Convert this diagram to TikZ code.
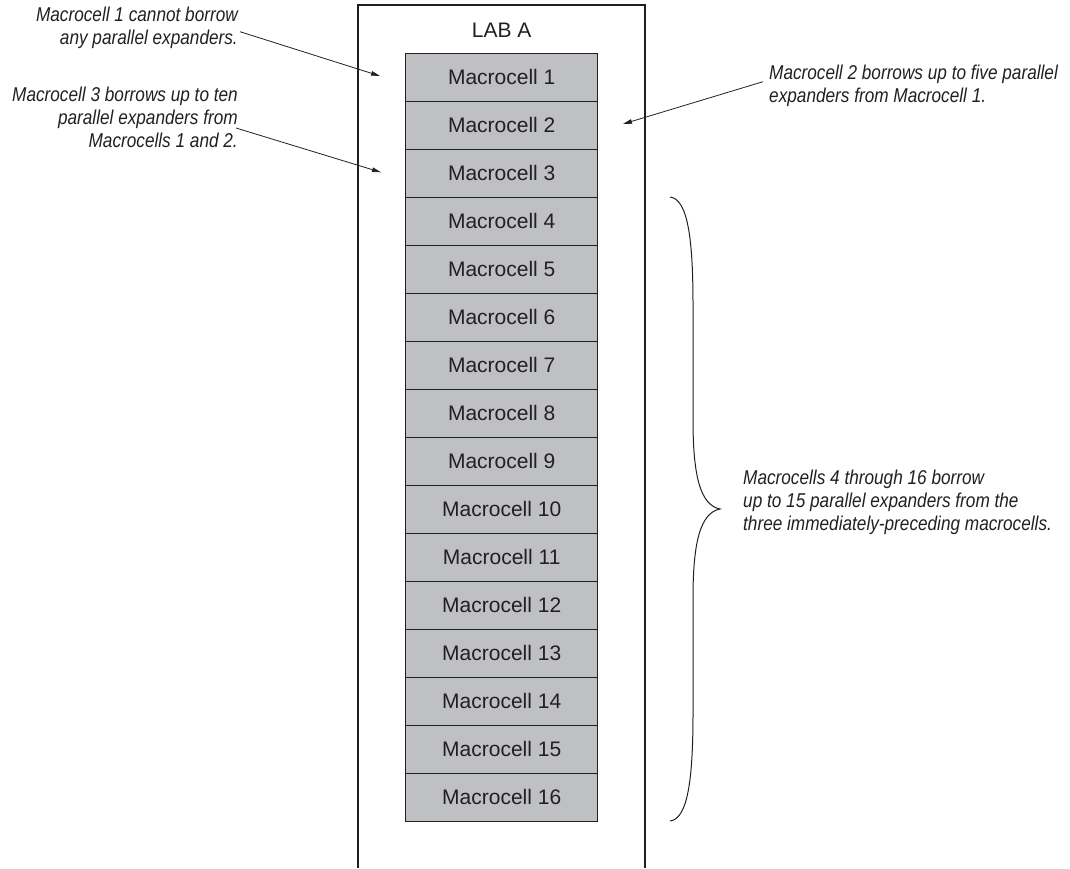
\documentclass[tikz,border=0pt]{standalone}
\usepackage{fontspec}
\setmainfont{Liberation Sans}
\newfontfamily\annfont[FakeStretch=0.86]{Liberation Sans}
\usetikzlibrary{arrows.meta}
\definecolor{ink}{RGB}{35,31,32}
\definecolor{cellgray}{RGB}{191,192,196}
\begin{document}
\begin{tikzpicture}[x=1pt,y=-1pt,
  cellbox/.style={draw=ink,line width=1pt,fill=cellgray,minimum width=192pt,minimum height=48pt,
    inner sep=0pt,text=ink,font=\fontsize{21}{25}\selectfont},
  annot/.style={inner sep=0pt,text=ink,font=\annfont\itshape\fontsize{20}{22.7}\selectfont},
  pointer/.style={draw=ink,line width=0.8pt,-{Triangle[length=9pt,width=4.5pt]}},
  frame/.style={draw=ink,line width=1.1pt}
]
\useasboundingbox (0,0) rectangle (1070,868);
% LAB frame
\coordinate (labbl) at (358,868);
\coordinate (labtl) at (358,5);
\coordinate (labtr) at (645,5);
\coordinate (labbr) at (645,868);
\draw[frame] (labbl) -- (labtl) -- (labtr) -- (labbr);
\node[text=ink,font=\fontsize{21}{25}\selectfont,inner sep=0pt] (labtitle) at (501.7,30.5) {LAB A};
% cells
\foreach \i in {1,...,16} {
  \node[cellbox] (c\i) at (501.7,{29.33+48*\i}) {\raisebox{-1.5pt}{Macrocell \i}};
}
% annotations
\node[annot,anchor=north east,align=right] (a1) at (238,7) {Macrocell 1 cannot borrow\\any parallel expanders.};
\node[annot,anchor=north east,align=right] (a3) at (238,87) {Macrocell 3 borrows up to ten\\parallel expanders from\\Macrocells 1 and 2.};
\node[annot,anchor=north west,align=left] (a2) at (769,65) {Macrocell 2 borrows up to five parallel\\expanders from Macrocell 1.};
\node[annot,anchor=north west,align=left] (a4) at (743,470) {Macrocells 4 through 16 borrow\\up to 15 parallel expanders from the\\three immediately-preceding macrocells.};
% arrows
\coordinate (s1) at (240,31.7);
\coordinate (t1) at (380,76);
\coordinate (s3) at (236,128);
\coordinate (t3) at (381,172.3);
\coordinate (s2) at (763,81.7);
\coordinate (t2) at (623,124);
\draw[pointer] (s1) -- (t1);
\draw[pointer] (s3) -- (t3);
\draw[pointer] (s2) -- (t2);
% brace
\coordinate (btop) at (670,197);
\coordinate (btip) at (720,509);
\coordinate (bbot) at (670,821);
\draw[draw=ink,line width=1pt] (btop) .. controls (688,199) and (693,240) .. (693,305)
  -- (693,420) .. controls (693,475) and (700,505) .. (btip)
  .. controls (700,513) and (693,543) .. (693,598)
  -- (693,713) .. controls (693,778) and (688,819) .. (bbot);
\end{tikzpicture}
\end{document}
